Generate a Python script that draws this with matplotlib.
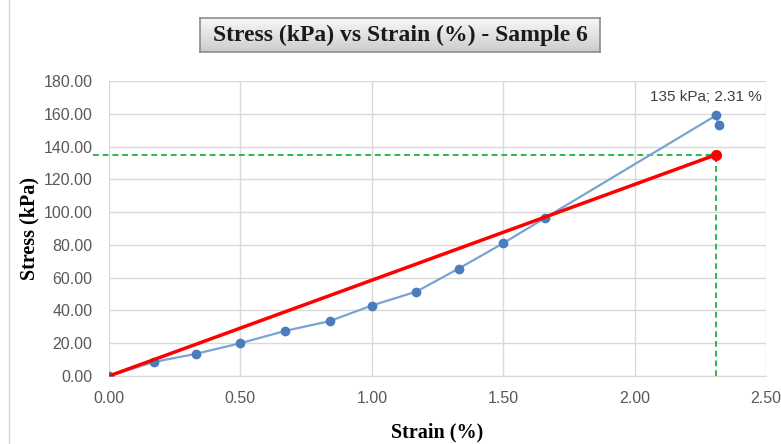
import matplotlib.pyplot as plt
import numpy as np
from matplotlib.patches import Rectangle

# measured points (strain %, stress kPa)
strain = [0.00, 0.17, 0.33, 0.50, 0.67, 0.84, 1.00, 1.17, 1.33, 1.50, 1.66, 2.31, 2.32]
stress = [0.0, 8.5, 13.5, 20.0, 27.5, 33.5, 43.0, 51.5, 65.5, 81.0, 96.5, 159.0, 153.0]

# linear fit to the chosen failure point
fail_strain = 2.31
fail_stress = 135.0
fit_x = [0.0, fail_strain]
fit_y = [0.0, fail_stress]

x_ticks = [0.0, 0.5, 1.0, 1.5, 2.0, 2.5]
y_ticks = [0, 20, 40, 60, 80, 100, 120, 140, 160, 180]

serif = ['Liberation Serif', 'DejaVu Serif']
sans = ['Liberation Sans', 'DejaVu Sans']
tick_gray = '#595959'


def main():
    fig = plt.figure(figsize=(7.81, 4.44), dpi=100)
    ax = fig.add_axes([0.1396, 0.1532, 0.8412, 0.6644])

    # outer chart border
    fig.patches.append(Rectangle((0.012, -0.01), 0.99, 1.02, transform=fig.transFigure,
                                 fill=False, edgecolor='#d9d9d9', linewidth=1))

    ax.plot(strain, stress, '-', color='#7aa3d4', linewidth=1.6, zorder=3)
    ax.plot(strain, stress, 'o', color='#4a7ebb', markersize=6, zorder=4)

    ax.plot(fit_x, fit_y, '-', color='#ff0000', linewidth=2.5, zorder=5)
    ax.plot([fail_strain], [fail_stress], 'o', color='#ff0000', markersize=7, zorder=6)

    # guide lines to the failure point
    ax.plot([-0.06, fail_strain], [fail_stress, fail_stress], '--', color='#2db84d',
            linewidth=1.4, dashes=(3, 2), clip_on=False, zorder=2)
    ax.plot([fail_strain, fail_strain], [0, fail_stress], '--', color='#2db84d',
            linewidth=1.4, dashes=(3, 2), zorder=2)

    ax.text(2.27, 166, '%d kPa; %.2f %%' % (fail_stress, fail_strain), ha='center', va='bottom',
            fontsize=11, color='#404040', family=sans)

    ax.set_xlim(0, 2.5)
    ax.set_ylim(0, 180)
    ax.set_xticks(x_ticks)
    ax.set_yticks(y_ticks)
    ax.set_xticklabels(['%.2f' % v for v in x_ticks], family=sans, fontsize=11.5, color=tick_gray)
    ax.set_yticklabels(['%.2f' % v for v in y_ticks], family=sans, fontsize=11.5, color=tick_gray)
    ax.tick_params(axis='x', length=0, pad=11)
    ax.tick_params(axis='y', length=0, pad=12)
    ax.grid(True, color='#d9d9d9', linewidth=1)
    ax.set_axisbelow(True)
    for side in ['top', 'right', 'left']:
        ax.spines[side].set_visible(False)
    ax.spines['bottom'].set_color('#d9d9d9')

    ax.set_xlabel('Strain (%)', family=serif, fontweight='bold', fontsize=14.5, labelpad=12)
    ax.set_ylabel('Stress (kPa)', family=serif, fontweight='bold', fontsize=14.5, labelpad=3)

    # title box with a soft vertical gradient
    tx0, ty0, tw, th = 200 / 781, 1 - 52 / 444, 400 / 781, 34 / 444
    tax = fig.add_axes([tx0, ty0, tw, th])
    grad = np.linspace(0.97, 0.80, 50).reshape(-1, 1)
    tax.imshow(grad, cmap='gray', vmin=0, vmax=1, aspect='auto', extent=[0, 1, 0, 1])
    tax.set_xticks([])
    tax.set_yticks([])
    for sp in tax.spines.values():
        sp.set_color('#8c8c8c')
        sp.set_linewidth(1.2)
    tax.text(0.5, 0.48, 'Stress (kPa) vs Strain (%) - Sample 6', ha='center', va='center',
             family=serif, fontweight='bold', fontsize=17, color='#1a1a1a',
             transform=tax.transAxes)

    fig.savefig('out.png', dpi=100)


if __name__ == "__main__":
    main()
